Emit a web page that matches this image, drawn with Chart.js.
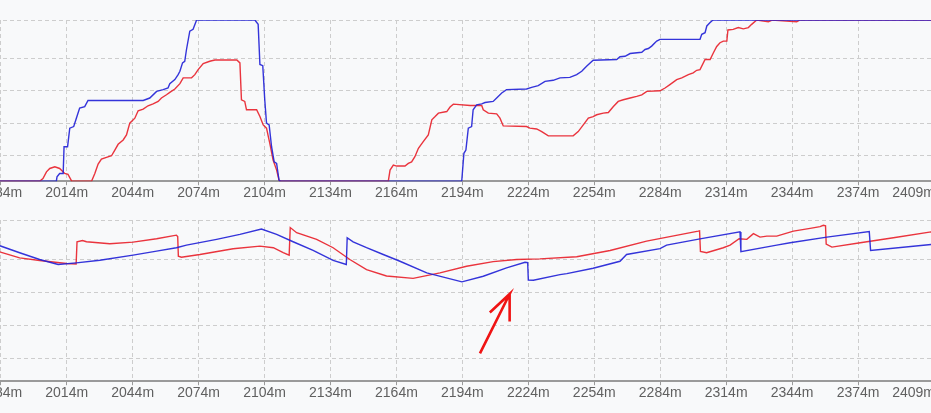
<!DOCTYPE html>
<html>
<head>
<meta charset="utf-8">
<script src="https://cdn.jsdelivr.net/npm/chart.js@4.4.1/dist/chart.umd.min.js"></script>
<style>
  html, body { margin: 0; padding: 0; background: #f8f9fa; overflow: hidden; width: 931px; height: 413px; }
  canvas { position: absolute; left: -74px; }
</style>
</head>
<body>
<canvas id="topChart" width="1009" height="202" style="top:0"></canvas>
<canvas id="bottomChart" width="1009" height="202" style="top:200px"></canvas>
<script>
// distance ticks (m); the view is a crop, so the first one sits off-screen
const xTickValues = [1954, 1984, 2014, 2044, 2074, 2104, 2134, 2164, 2194, 2224, 2254, 2284, 2314, 2344, 2374, 2409];
const topYTicks = [16, 36, 56, 76, 100];
const bottomYTicks = [14, 34.5, 55, 75.5, 100];

// [distance m, value]
const topBlue = [[1982,0],[2009.3,0],[2009.6,2.7],[2010.8,4.8],[2012.4,4.8],[2012.8,21.4],[2014.4,21.4],[2015.4,32.9],
  [2017.2,33.9],[2018.4,39.1],[2019.9,45.4],[2022.2,46.3],[2023.7,50.1],[2048.8,50.1],[2051.8,51.6],[2054.9,55.7],
  [2057.9,56.8],[2060.1,57.8],[2060.9,60.5],[2063.2,63.0],[2064.7,66.1],[2065.5,68.2],[2066.7,73.4],[2067.7,74.4],
  [2068.5,81.7],[2070.0,93.1],[2071.5,94.2],[2073.1,100],[2099.6,100],[2101.1,97.3],[2101.9,72.4],[2103.2,71.7],
  [2104.1,50.5],[2104.9,36.0],[2106.1,34.9],[2107.2,21.4],[2108.4,12.0],[2109.5,11.0],[2110.6,0.6],[2111,0],
  [2193.7,0],[2194.7,17.3],[2195.6,19.3],[2196.7,32.9],[2198.2,33.9],[2198.9,44.3],[2200.5,47.4],[2202.8,48.0],
  [2204.3,48.8],[2208.0,49.5],[2209.6,51.6],[2211.9,54.7],[2214.1,56.8],[2223.2,57.2],[2225.5,58.2],[2228.5,59.3],
  [2231.6,61.9],[2235.3,62.6],[2238.4,64.1],[2242.9,64.4],[2246.0,66.1],[2248.3,68.2],[2250.5,71.3],[2253.5,75.0],
  [2264.2,75.5],[2265.7,77.2],[2268.0,77.5],[2270.3,79.2],[2275.6,80.0],[2277.1,81.7],[2278.6,82.3],[2280.1,83.8],
  [2282.4,86.9],[2283.9,88.0],[2302.1,88.0],[2302.9,91.1],[2304.4,92.1],[2305.2,96.3],[2306.7,98.4],[2308.0,100],
  [2412,100]];

const topRed = [[1982,0],[2001.7,0],[2003.2,1.7],[2004.8,5.8],[2006.3,7.9],[2008.6,8.9],[2010.8,7.9],[2013.1,4.8],
  [2014.6,4.2],[2016.2,0.2],[2016.3,0],[2025.3,0],[2026.8,4.8],[2028.3,10.6],[2029.8,13.7],[2032.1,14.8],[2034.4,15.8],
  [2035.9,19.3],[2037.4,22.9],[2039.7,25.6],[2041.2,28.7],[2042.7,36.0],[2045.0,39.1],[2046.5,43.7],[2048.8,44.7],
  [2051.0,46.8],[2053.3,48.0],[2055.6,49.5],[2057.1,51.6],[2059.4,53.6],[2060.9,55.1],[2063.2,57.2],[2065.5,60.5],
  [2067.0,64.1],[2070.8,64.1],[2072.3,66.1],[2073.8,69.2],[2076.1,73.0],[2079.1,74.4],[2081.4,75.2],[2091.4,75.2],
  [2092.8,73.4],[2093.5,50.5],[2095.0,49.5],[2095.8,44.3],[2100.4,44.3],[2101.9,40.1],[2103.4,34.9],[2104.9,32.9],
  [2106.4,23.5],[2107.9,13.1],[2109.5,6.9],[2110.6,0.6],[2111,0],[2160.3,0],[2161.1,6.9],[2162.6,10.0],[2164.1,9.4],
  [2167.9,9.4],[2169.4,11.0],[2170.9,12.0],[2172.4,15.2],[2174.0,20.4],[2176.2,24.5],[2178.5,28.7],[2180.1,38.1],
  [2181.6,40.1],[2183.1,42.2],[2186.9,43.2],[2188.4,46.0],[2189.9,47.8],[2197.5,47.0],[2202.8,47.0],[2203.5,44.3],
  [2205.8,42.2],[2209.6,41.8],[2211.1,39.1],[2212.6,34.3],[2223.2,33.9],[2224.7,32.9],[2227.8,32.4],[2230.1,30.8],
  [2233.1,28.1],[2244.4,28.1],[2246.7,30.8],[2249.0,34.9],[2251.3,39.1],[2253.5,40.1],[2255.1,41.2],[2258.1,42.2],
  [2260.4,42.6],[2262.7,46.3],[2264.9,49.5],[2267.2,50.5],[2270.3,51.6],[2273.3,52.6],[2275.6,53.6],[2277.9,55.7],
  [2283.9,56.1],[2286.2,57.8],[2288.4,59.9],[2291.5,63.0],[2293.8,64.1],[2296.8,66.1],[2299.0,67.2],[2300.6,68.8],
  [2302.1,69.2],[2304.4,75.5],[2306.7,75.5],[2308.2,79.7],[2309.7,83.6],[2311.2,85.9],[2312.7,86.9],[2314.3,86.9],
  [2314.8,93.8],[2317.2,94.2],[2319.5,95.3],[2321.8,94.5],[2324.1,95.3],[2325.6,97.3],[2327.9,100],[2333.2,98.9],
  [2334.9,100],[2346.1,98.9],[2347.6,100],[2412,100]];

const bottomBlue = [[1982,84.8],[1992.6,79.7],[2001.7,75.5],[2010.1,72.4],[2018.4,73.4],[2029.1,75.0],[2044.2,78.2],
  [2054.9,80.7],[2063.9,82.8],[2068.5,84.4],[2082.2,88.0],[2092.8,91.1],[2102.6,94.4],[2109.5,91.1],[2117.0,86.5],
  [2126.1,81.1],[2135.2,75.0],[2141.2,72.4],[2141.6,89.0],[2144.3,86.4],[2150.4,82.8],[2158.0,78.6],[2165.6,74.4],
  [2177.8,67.2],[2193.8,61.6],[2203.5,65.1],[2214.1,70.3],[2222.5,73.8],[2223.7,73.6],[2224.0,62.7],[2226.3,62.6],
  [2238.4,66.1],[2241.5,66.7],[2253.5,70.1],[2265.7,74.4],[2268.7,78.6],[2283.9,82.2],[2286.9,84.4],[2302.1,88.3],
  [2320.3,92.6],[2320.7,80.3],[2337.0,84.4],[2343.1,85.9],[2359.8,89.4],[2379.1,92.8],[2379.7,81.1],[2407.2,84.8],
  [2412,85.3]];

const bottomRed = [[1982,80.8],[1992.6,76.5],[2001.7,74.9],[2013.9,73.0],[2018.3,72.7],[2018.7,86.5],[2021.2,87.3],
  [2023.0,86.5],[2033.6,85.3],[2044.2,86.3],[2054.9,88.4],[2063.9,90.6],[2064.5,89.8],[2064.8,77.5],[2066.2,76.9],
  [2074.6,78.6],[2089.7,82.2],[2101.9,83.8],[2108.0,82.8],[2112.5,79.7],[2115.2,78.2],[2115.7,95.3],[2118.6,92.1],
  [2127.7,88.0],[2135.2,82.8],[2142.8,75.5],[2150.4,69.2],[2159.5,65.3],[2171.6,63.8],[2183.8,67.2],[2195.9,71.3],
  [2208.0,74.2],[2218.7,75.5],[2229.3,75.9],[2246.0,77.2],[2261.2,81.1],[2277.8,86.9],[2301.3,93.1],[2301.9,93.3],
  [2302.3,80.5],[2305.1,79.7],[2312.7,82.8],[2315.8,84.4],[2319.9,88.4],[2323.4,88.0],[2326.4,91.5],[2329.4,89.4],
  [2332.5,90.0],[2337.0,90.0],[2344.6,93.1],[2352.2,94.8],[2356.7,95.9],[2358.2,96.7],[2359.2,96.4],[2359.5,85.1],
  [2362.1,83.2],[2375.0,85.9],[2390.1,89.0],[2407.2,92.6],[2412,93.1]];

// hand-drawn arrow on the lower chart: tail, tip, barb, tip, barb
const arrowPath = [[2202.0,17.3],[2215.5,54.1],[2206.5,42.6],[2215.5,54.1],[2215.5,37.0]];

const BLUE = 'rgba(35, 35, 215, 0.92)';
const RED = 'rgba(232, 30, 40, 0.9)';
const GRID = '#cdcdcd';

function toPoints(pairs) {
  return pairs.map(p => ({ x: p[0], y: p[1] }));
}

function lineSet(pairs, color, width) {
  return {
    data: toPoints(pairs),
    borderColor: color,
    borderWidth: width,
    pointRadius: 0,
    tension: 0,
    fill: false
  };
}

function makeChart(id, datasets, yTicks) {
  const ctx = document.getElementById(id).getContext('2d');
  return new Chart(ctx, {
    type: 'line',
    data: { datasets: datasets },
    options: {
      responsive: false,
      animation: false,
      events: [],
      layout: { padding: { top: 20, left: 0, right: 0, bottom: 0 } },
      plugins: { legend: { display: false }, tooltip: { enabled: false } },
      scales: {
        x: {
          type: 'linear',
          min: 1950,
          max: 2409,
          afterBuildTicks: s => { s.ticks = xTickValues.map(v => ({ value: v })); },
          ticks: {
            autoSkip: false,
            maxRotation: 0,
            align: 'inner',
            padding: 0,
            color: '#606060',
            font: { family: '"Liberation Sans", Arial, sans-serif', size: 14 },
            callback: v => v + 'm'
          },
          grid: { color: GRID, lineWidth: 1, tickLength: 4, tickColor: '#9a9a9a', tickBorderDash: [] },
          border: { display: true, color: '#9a9a9a', width: 2, dash: [4, 3] }
        },
        y: {
          min: 0,
          max: 100,
          afterBuildTicks: s => { s.ticks = yTicks.map(v => ({ value: v })); },
          afterFit: s => { s.width = 0; },
          ticks: { display: false },
          grid: { color: GRID, lineWidth: 1, drawTicks: false },
          border: { display: false, dash: [4, 3] }
        }
      }
    }
  });
}

makeChart('topChart', [
  lineSet(topBlue, BLUE, 1.4),
  lineSet(topRed, RED, 1.4)
], topYTicks);

makeChart('bottomChart', [
  lineSet(arrowPath, '#f01414', 2.6),
  lineSet(bottomBlue, BLUE, 1.4),
  lineSet(bottomRed, RED, 1.4)
], bottomYTicks);
</script>
</body>
</html>
